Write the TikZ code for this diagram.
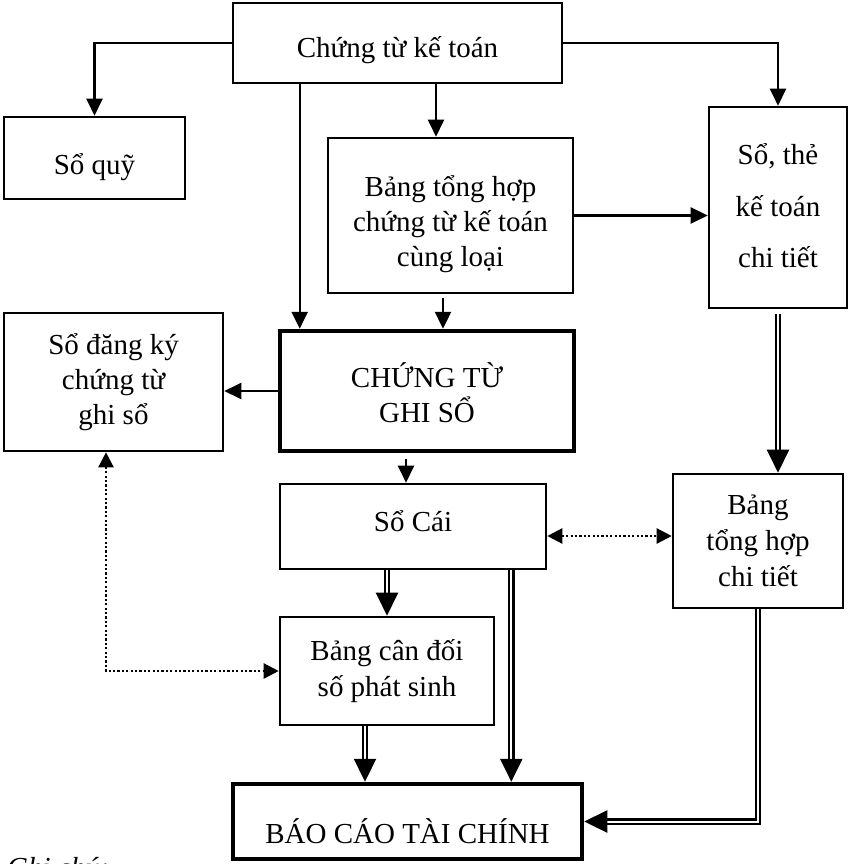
\documentclass[tikz,border=0pt]{standalone}
\usepackage{fontspec}
\setmainfont{Liberation Serif}
\usetikzlibrary{arrows.meta,calc}

% centred lines with a fixed baseline distance; the box's baseline is the first line's
\newcommand\linestack[2]{\vtop{\baselineskip=#1\lineskiplimit=-100pt\lineskip=0pt
  \halign{\hfil##\hfil\cr#2\crcr}}}

\tikzset{
  box/.style={draw, line width=2.6pt, inner sep=0pt, text depth=0pt,
              font=\fontsize{29}{35}\selectfont},
  thickbox/.style={box, line width=4.5pt},
  arr/.style={line width=2.4pt, -{Triangle[length=17pt,width=16pt]}},
  dbl/.style={draw, line width=2.3pt, double, double distance=2pt,
              -{Triangle[length=23pt,width=22pt]}},
  dotarr/.style={line width=2.4pt, dash pattern=on 2.2pt off 2.2pt,
              {Triangle[length=15pt,width=15pt]}-{Triangle[length=15pt,width=15pt]}},
}

\begin{document}
\begin{tikzpicture}[x=1pt,y=-1pt]
\useasboundingbox (0,0) rectangle (850,864);
\clip (0,0) rectangle (850,864);

% boxes
\node[box, minimum width=329pt, minimum height=80pt, text height=30pt]
  (ctkt) at (397.5,43) {Chứng từ kế toán};
\node[box, minimum width=181pt, minimum height=82pt, text height=32pt]
  (soquy) at (94.5,158) {Sổ quỹ};
\node[box, minimum width=245pt, minimum height=155pt, text height=31pt, text depth=70pt]
  (bth) at (450.5,215.5)
  {\linestack{35pt}{Bảng tổng hợp\cr chứng từ kế toán\cr cùng loại}};
\node[box, minimum width=138pt, minimum height=201pt, text height=17pt, text depth=104pt]
  (sothe) at (778,207.5) {\linestack{52pt}{Sổ, thẻ\cr kế toán\cr chi tiết}};
\node[box, minimum width=219pt, minimum height=138pt, text height=14pt, text depth=70pt]
  (sodk) at (113.5,382) {\linestack{35pt}{Sổ đăng ký\cr chứng từ\cr ghi sổ}};
\node[thickbox, minimum width=294pt, minimum height=120pt, text height=27pt, text depth=35pt]
  (ctgs) at (427,391) {\linestack{35pt}{CHỨNG TỪ\cr GHI SỔ}};
\node[box, minimum width=266pt, minimum height=85pt, text height=10pt]
  (socai) at (413,526.5) {Sổ Cái};
\node[box, minimum width=170pt, minimum height=134pt, text height=18pt, text depth=72pt]
  (bthct) at (758,541) {\linestack{36pt}{Bảng\cr tổng hợp\cr chi tiết}};
\node[box, minimum width=214pt, minimum height=108pt, text height=14pt, text depth=36pt]
  (bcd) at (387,671) {\linestack{36pt}{Bảng cân đối\cr số phát sinh}};
\node[thickbox, minimum width=349pt, minimum height=75pt, text height=43pt]
  (bctc) at (407.5,821.5) {BÁO CÁO TÀI CHÍNH};

\node[anchor=base west, inner sep=0pt, font=\fontsize{29}{35}\selectfont\itshape]
  (note) at (7,877) {Ghi chú:};

% single-line flows
\draw[arr] (ctkt.west) -| (soquy.north);
\coordinate (a1) at ($(ctkt.south west)+(68,0)$);
\draw[arr] (a1) -- (a1 |- ctgs.north);
\coordinate (a2) at ($(ctkt.south)+(38.5,0)$);
\draw[arr] (a2) -- (a2 |- bth.north);
\draw[arr] (ctkt.east) -| (sothe.north);
\draw[arr] (bth.east) -- (sothe.west |- bth.east);
\coordinate (a3) at ($(bth.south)+(-7.5,4)$);
\draw[arr] (a3) -- (a3 |- ctgs.north);
\draw[arr] (ctgs.west) -- (sodk.east |- ctgs.west);
\coordinate (a4) at ($(ctgs.south)+(-21,6)$);
\draw[arr] (a4) -- (a4 |- socai.north);

% double-line flows
\coordinate (b1) at ($(sothe.south)+(0,5)$);
\draw[dbl] (b1) -- (b1 |- bthct.north);
\draw[dbl] (socai.south -| bcd.north) -- (bcd.north);
\coordinate (b2) at ($(socai.south east)+(-36,0)$);
\draw[dbl] (b2) -- (b2 |- bctc.north);
\coordinate (b3) at ($(bcd.south)+(-22,0)$);
\draw[dbl] (b3) -- (b3 |- bctc.north);
\draw[dbl] (bthct.south) |- (bctc.east);

% dotted cross-checks
\coordinate (c1) at ($(socai.east)+(0,9.5)$);
\draw[dotarr] (c1) -- (bthct.west |- c1);
\coordinate (c2) at ($(sodk.south)+(-7.5,0)$);
\draw[dotarr] (c2) |- (bcd.west);
\end{tikzpicture}
\end{document}
